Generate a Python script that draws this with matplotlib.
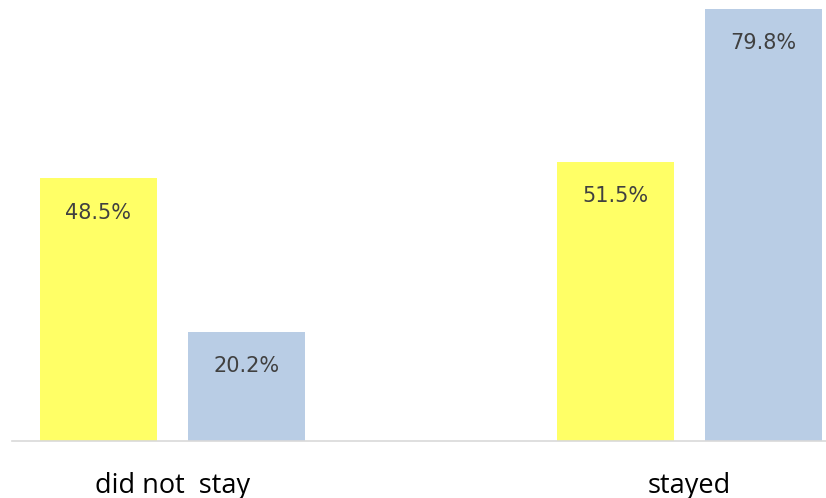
import matplotlib
matplotlib.use("Agg")
import matplotlib.pyplot as plt
import numpy as np

# Dados
categorias = ["did not  stay", "stayed"]
serie_amarela = [48.5, 51.5]
serie_azul = [20.2, 79.8]

x = np.arange(len(categorias))
largura = 0.226
desloc = 0.143

fig = plt.figure(figsize=(8.26, 4.98), dpi=100)
ax = fig.add_axes([12/826, 57/498, 814/826, 441/498])

b1 = ax.bar(x - desloc, serie_amarela, largura, color="#FFFF66")
b2 = ax.bar(x + desloc, serie_azul, largura, color="#B9CDE5")

# Rótulos dentro das barras
for barras, valores in [(b1, serie_amarela), (b2, serie_azul)]:
    for b, v in zip(barras, valores):
        ax.text(b.get_x() + b.get_width()/2, v - 6.3, f"{v:.1f}%",
                ha="center", va="center", fontsize=15, color="#404040",
                family="DejaVu Sans")

ax.set_xlim(-0.31, 1.2645)
ax.set_ylim(0, 81.46)

# Eixo
for s in ["top", "right", "left"]:
    ax.spines[s].set_visible(False)
ax.spines["bottom"].set_color("#D9D9D9")
ax.spines["bottom"].set_linewidth(1.2)
ax.set_yticks([])
ax.set_xticks(x)
ax.set_xticklabels(categorias, fontsize=19.5, color="#000000", family="Open Sans")
ax.tick_params(axis="x", length=0, pad=22)

fig.savefig("out.png", dpi=100)
